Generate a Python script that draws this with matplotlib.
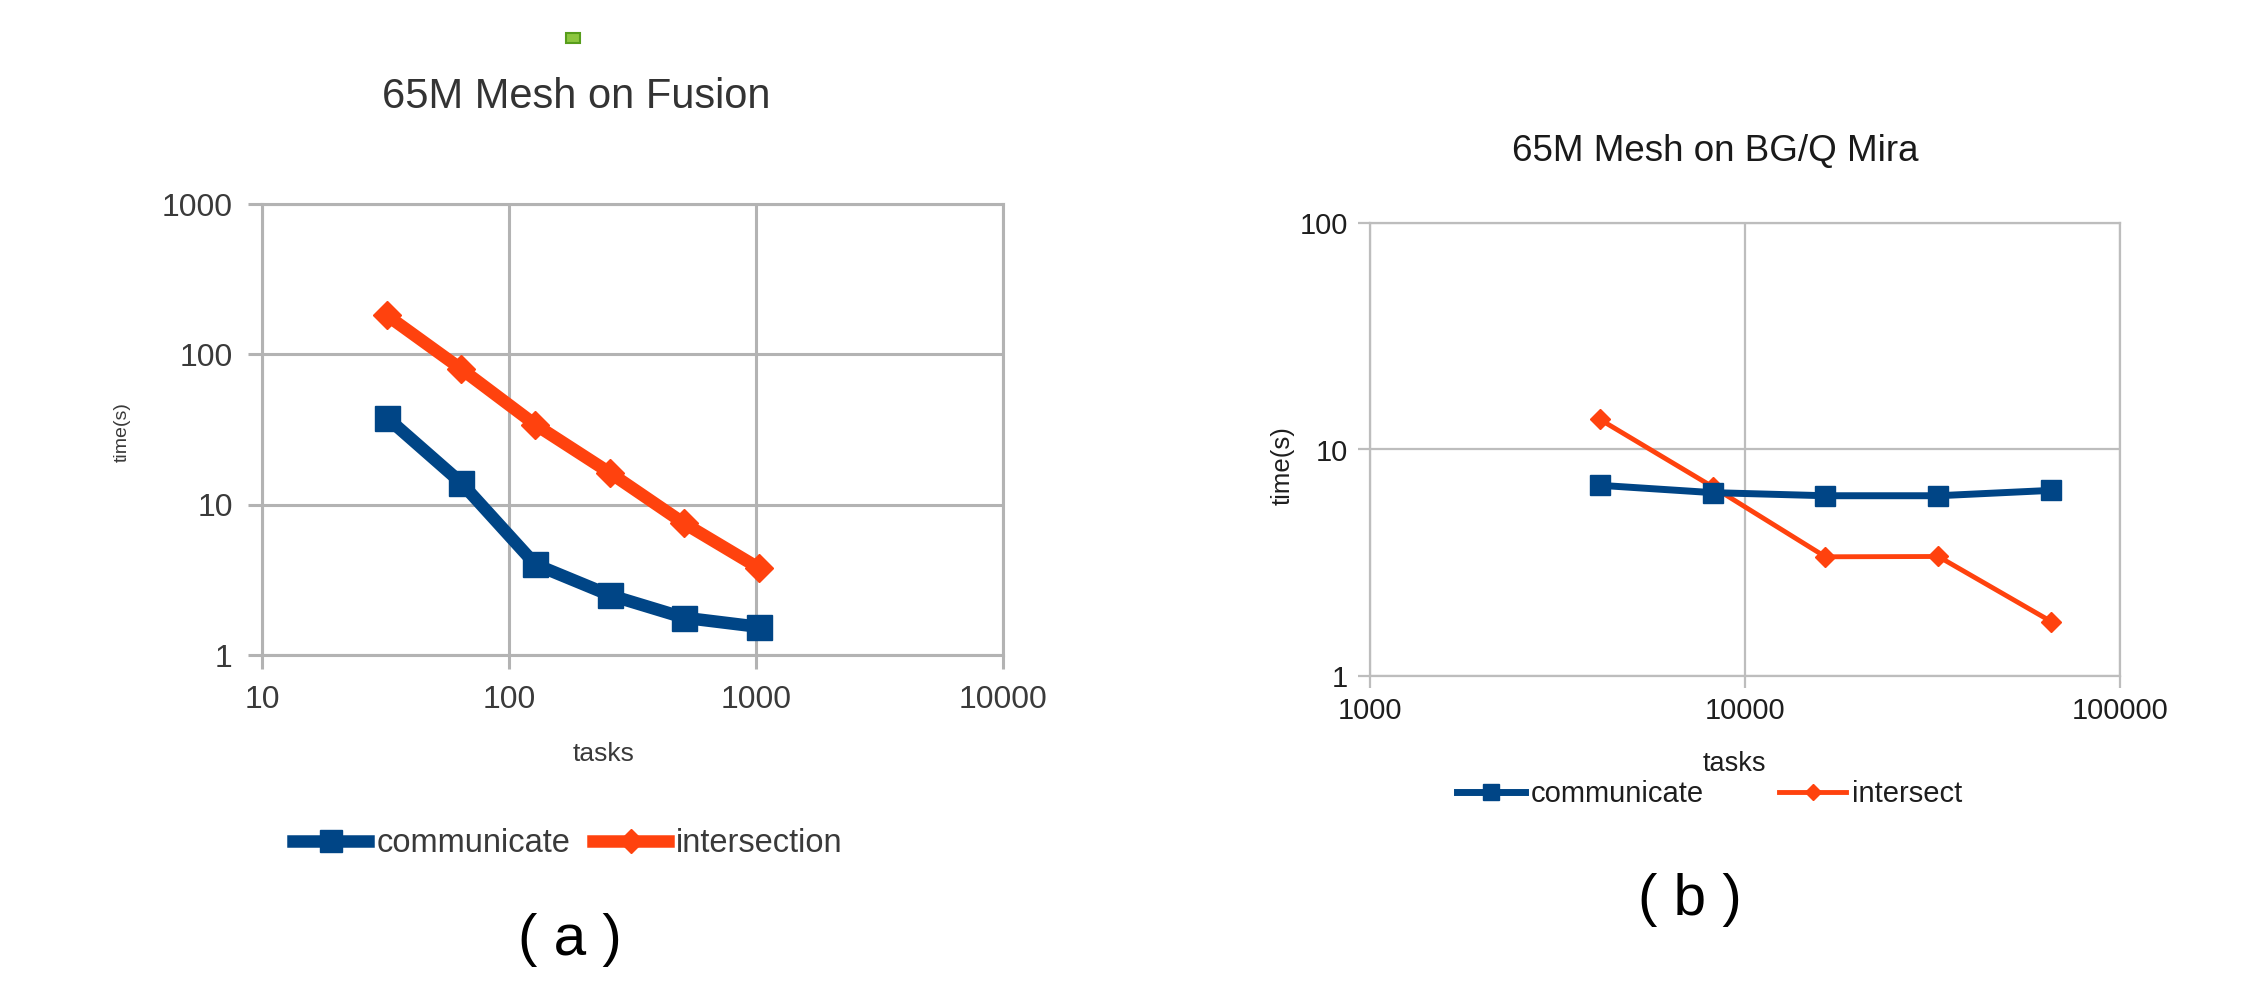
import matplotlib
matplotlib.use("Agg")
import matplotlib.pyplot as plt
from matplotlib.ticker import FixedLocator, FuncFormatter, NullLocator
from matplotlib.patches import Rectangle

plt.rcParams['font.family'] = ['Liberation Sans', 'DejaVu Sans']

# ---------------- data ----------------
fusion_tasks = [32, 64, 128, 256, 512, 1024]
fusion_communicate = [38, 14, 4.0, 2.5, 1.77, 1.54]
fusion_intersection = [182, 80, 34, 16.3, 7.5, 3.8]

mira_tasks = [4096, 8192, 16384, 32768, 65536]
mira_communicate = [6.95, 6.45, 6.25, 6.25, 6.6]
mira_intersect = [13.6, 6.85, 3.36, 3.37, 1.74]

fusion_xticks = [10, 100, 1000, 10000]
fusion_yticks = [1, 10, 100, 1000]
mira_xticks = [1000, 10000, 100000]
mira_yticks = [1, 10, 100]

BLUE = '#004586'
ORANGE = '#ff420e'

W, H = 2260, 988
fig = plt.figure(figsize=(W / 100, H / 100), dpi=100)


def fx(x):
    return x / W


def fy(y):
    return 1 - y / H


def axes_px(x0, y0, x1, y1):
    return fig.add_axes([fx(x0), fy(y1), fx(x1) - fx(x0), fy(y0) - fy(y1)])


def style_axes(ax, xt, yt, gridc, gridlw, ticklen, tsize, tcolor, padx, pady):
    ax.set_xscale('log')
    ax.set_yscale('log')
    ax.set_xlim(xt[0], xt[-1])
    ax.set_ylim(yt[0], yt[-1])
    ax.xaxis.set_major_locator(FixedLocator(xt))
    ax.yaxis.set_major_locator(FixedLocator(yt))
    ax.xaxis.set_minor_locator(NullLocator())
    ax.yaxis.set_minor_locator(NullLocator())
    fmt = FuncFormatter(lambda v, p: f"{int(round(v))}")
    ax.xaxis.set_major_formatter(fmt)
    ax.yaxis.set_major_formatter(fmt)
    ax.grid(True, which='major', color=gridc, linewidth=gridlw)
    ax.set_axisbelow(True)
    for s in ax.spines.values():
        s.set_color(gridc)
        s.set_linewidth(gridlw)
    ax.tick_params(axis='both', which='major', direction='out', length=ticklen,
                   width=gridlw, color=gridc, labelsize=tsize, labelcolor=tcolor)
    ax.tick_params(axis='x', pad=padx)
    ax.tick_params(axis='y', pad=pady)


# ---------------- left chart ----------------
axL = axes_px(262, 204, 1003, 655)
style_axes(axL, fusion_xticks, fusion_yticks, '#b3b3b3', 2.2, 10, 23, '#3a3a3a', 11.5, 11)
axL.plot(fusion_tasks, fusion_communicate, color=BLUE, lw=9, marker='s', ms=18,
         mec=BLUE, mfc=BLUE, label='communicate', solid_joinstyle='round', zorder=3)
axL.plot(fusion_tasks, fusion_intersection, color=ORANGE, lw=9, marker='D', ms=14,
         mec=ORANGE, mfc=ORANGE, label='intersection', solid_joinstyle='round', zorder=3)

fig.text(fx(576), fy(97), '65M Mesh on Fusion', ha='center', va='center',
         fontsize=30, color='#333333')
fig.text(fx(122), fy(432), 'time(s)', ha='center', va='center', rotation=90,
         fontsize=14, color='#3a3a3a')
fig.text(fx(604), fy(754), 'tasks', ha='center', va='center', fontsize=19, color='#3a3a3a')
legL = axL.legend(loc='center', bbox_to_anchor=(fx(568), fy(844)),
                  bbox_transform=fig.transFigure, ncol=2, frameon=False,
                  fontsize=23.5, handlelength=2.3, handletextpad=0.25,
                  columnspacing=0.7, borderpad=0, markerscale=0.85)
for t in legL.get_texts():
    t.set_color('#3a3a3a')
fig.text(fx(570), fy(940), '( a )', ha='center', va='center', fontsize=42, color='black')

# small green artefact above left title
fig.patches.append(Rectangle((fx(566), fy(43)), fx(14), 10 / H, transform=fig.transFigure,
                             facecolor='#8cc63f', edgecolor='#579d1c', linewidth=1.5))

# ---------------- right chart ----------------
axR = axes_px(1370, 223, 2120, 676)
style_axes(axR, mira_xticks, mira_yticks, '#bdbdbd', 1.6, 8.6, 21, '#1e1e1e', 6.5, 7)
axR.plot(mira_tasks, mira_communicate, color=BLUE, lw=5, marker='s', ms=15,
         mec=BLUE, mfc=BLUE, label='communicate', zorder=3)
axR.plot(mira_tasks, mira_intersect, color=ORANGE, lw=3.5, marker='D', ms=10,
         mec=ORANGE, mfc=ORANGE, label='intersect', zorder=2.5)

fig.text(fx(1715), fy(152), '65M Mesh on BG/Q Mira', ha='center', va='center',
         fontsize=26.5, color='#1a1a1a')
fig.text(fx(1283), fy(466), 'time(s)', ha='center', va='center', rotation=90,
         fontsize=18.5, color='#1e1e1e')
fig.text(fx(1734), fy(764), 'tasks', ha='center', va='center', fontsize=19.5, color='#1e1e1e')
legR = axR.legend(loc='center', bbox_to_anchor=(fx(1710), fy(794)),
                  bbox_transform=fig.transFigure, ncol=2, frameon=False,
                  fontsize=21, handlelength=2.3, handletextpad=0.2,
                  columnspacing=2.6, borderpad=0, markerscale=0.8)
for t in legR.get_texts():
    t.set_color('#1e1e1e')
fig.text(fx(1690), fy(900), '( b )', ha='center', va='center', fontsize=42, color='black')

fig.savefig('out.png', dpi=100, facecolor='white')
